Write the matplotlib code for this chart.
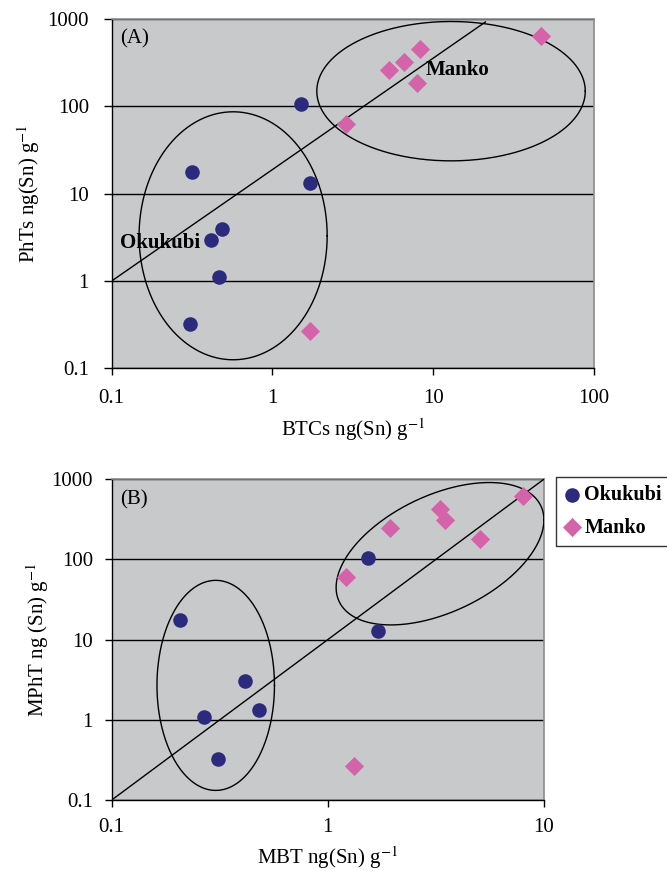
import numpy as np
import matplotlib
matplotlib.use("Agg")
import matplotlib.pyplot as plt
from matplotlib.ticker import LogLocator, FuncFormatter, NullLocator

plt.rcParams["font.family"] = ["Liberation Serif", "DejaVu Serif"]
plt.rcParams["mathtext.fontset"] = "stix"

# Panel A data: BTCs vs PhTs
okukubi_btc = [1.51, 0.314, 1.71, 0.486, 0.414, 0.464, 0.306]
okukubi_pht = [107, 17.8, 13.2, 3.96, 2.97, 1.11, 0.324]
manko_btc = [46.5, 8.3, 6.56, 5.33, 7.87, 2.85, 1.72]
manko_pht = [638, 450, 321, 258, 183, 62.2, 0.267]

# Panel B data: MBT vs MPhT
okukubi_mbt = [0.207, 0.414, 0.268, 0.482, 0.309, 1.53, 1.70]
okukubi_mpht = [17.7, 3.06, 1.10, 1.33, 0.328, 104, 12.9]
manko_mbt = [8.0, 3.31, 3.48, 1.94, 5.09, 1.22, 1.32]
manko_mpht = [626, 430, 311, 247, 179, 61.1, 0.266]

# reference lines (x ends, y ends)
line_a_x = [0.1, 21.1]
line_a_y = [1, 924]
line_b_x = [0.1, 10]
line_b_y = [0.1, 1000]

# ellipses in log space: centre x, centre y, half width, tilt, half height (decades)
ell_a = [(0.569, 3.29, 0.585, 0.0, 1.42), (12.9, 149, 0.835, 0.0, 0.798)]
ell_b = [(0.303, 2.69, 0.272, 0.0, 1.31), (3.31, 118, 0.481, 0.421, 0.782)]

navy = "#2c2a7c"
pink = "#d463a9"
bg = "#c8c9cb"


def ellipse(ax, cx, cy, hw, tilt, hh):
    t = np.linspace(0, 2 * np.pi, 400)
    lx = np.log10(cx) + hw * np.cos(t)
    ly = np.log10(cy) + tilt * np.cos(t) + hh * np.sin(t)
    ax.plot(10 ** lx, 10 ** ly, color="black", lw=1.0, zorder=3)


def fmt(v, pos):
    return "%g" % v


def style(ax, xmax, xpad, ylen, ypad):
    ax.set_xscale("log")
    ax.set_yscale("log")
    ax.set_xlim(0.1, xmax)
    ax.set_ylim(0.1, 1000)
    ax.set_facecolor(bg)
    ax.xaxis.set_major_locator(LogLocator(base=10))
    ax.yaxis.set_major_locator(LogLocator(base=10))
    ax.xaxis.set_minor_locator(NullLocator())
    ax.yaxis.set_minor_locator(NullLocator())
    ax.xaxis.set_major_formatter(FuncFormatter(fmt))
    ax.yaxis.set_major_formatter(FuncFormatter(fmt))
    ax.grid(axis="y", color="black", lw=1.0)
    ax.set_axisbelow(True)
    ax.tick_params(labelsize=15, width=1.0, color="black")
    ax.tick_params(axis="x", length=5, pad=xpad)
    ax.tick_params(axis="y", length=ylen, pad=ypad)
    for s in ["top", "right"]:
        ax.spines[s].set_color("#8c8c8c")
        ax.spines[s].set_linewidth(1.2)
    for s in ["left", "bottom"]:
        ax.spines[s].set_color("black")
        ax.spines[s].set_linewidth(1.0)


fig = plt.figure(figsize=(6.67, 8.71), dpi=100)

# Panel A
ax1 = fig.add_axes([0.1675, 0.5772, 0.7231, 0.4010])
style(ax1, 100, 10, 5.8, 10.6)
ax1.plot(line_a_x, line_a_y, color="black", lw=1.0, zorder=3)
for e in ell_a:
    ellipse(ax1, *e)
ax1.scatter(okukubi_btc, okukubi_pht, s=110, marker="o", color=navy, zorder=4, linewidths=0)
ax1.scatter(manko_btc, manko_pht, s=95, marker="D", color=pink, zorder=4, linewidths=0)
ax1.text(0.1127, 590, "(A)", fontsize=15, va="center", ha="left")
ax1.text(0.1127, 2.75, "Okukubi", fontsize=15, fontweight="bold", va="center", ha="left", zorder=5)
ax1.text(8.96, 261, "Manko", fontsize=15, fontweight="bold", va="center", ha="left", zorder=5)
ax1.set_xlabel("BTCs ng(Sn) g$^{-1}$", fontsize=15, labelpad=6)
ax1.set_ylabel("PhTs ng(Sn) g$^{-1}$", fontsize=15, labelpad=4)

# Panel B
ax2 = fig.add_axes([0.1675, 0.0815, 0.6477, 0.3682])
style(ax2, 10, 8, 5.3, 8.3)
ax2.plot(line_b_x, line_b_y, color="black", lw=1.0, zorder=3)
for e in ell_b:
    ellipse(ax2, *e)
ax2.scatter(okukubi_mbt, okukubi_mpht, s=110, marker="o", color=navy, zorder=4,
            linewidths=0, label="Okukubi")
ax2.scatter(manko_mbt, manko_mpht, s=95, marker="D", color=pink, zorder=4,
            linewidths=0, label="Manko")
ax2.text(0.109, 562, "(B)", fontsize=15, va="center", ha="left")
ax2.set_xlabel("MBT ng(Sn) g$^{-1}$", fontsize=15, labelpad=5)
ax2.set_ylabel("MPhT ng (Sn) g$^{-1}$", fontsize=15, labelpad=0)

leg = ax2.legend(loc="upper left", bbox_to_anchor=(1.0285, 1.006), borderaxespad=0,
                 frameon=True, fancybox=False, edgecolor="black",
                 handletextpad=0.2, handlelength=0.8, borderpad=0.4,
                 labelspacing=0.6, prop={"size": 14.5, "weight": "bold"})
leg.get_frame().set_linewidth(1.0)

fig.savefig("out.png", dpi=100)
